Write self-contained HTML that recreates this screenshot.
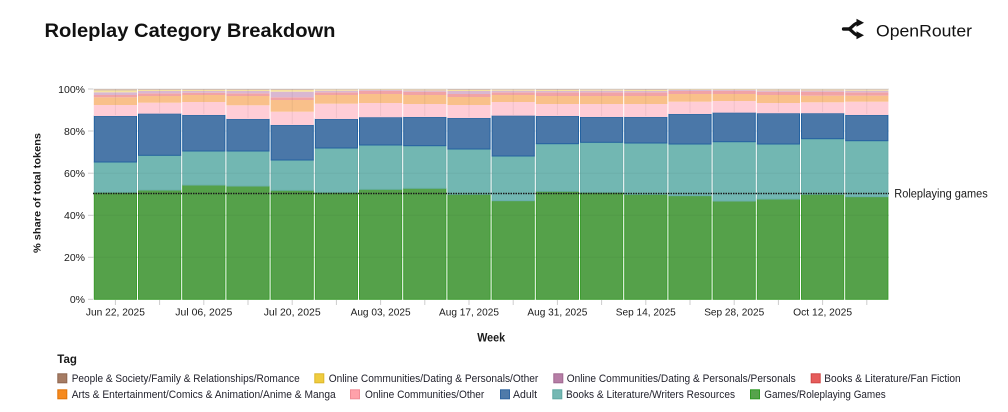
<!DOCTYPE html>
<html><head><meta charset="utf-8"><style>
html,body{margin:0;padding:0;background:#fff;}
svg{display:block;font-family:"Liberation Sans",sans-serif;}
</style></head><body>
<svg width="1008" height="412" viewBox="0 0 1008 412" xmlns="http://www.w3.org/2000/svg">
<rect width="1008" height="412" fill="#fff"/>
<!-- Title -->
<text x="44.5" y="37" font-size="19" font-weight="bold" fill="#111" textLength="291" lengthAdjust="spacingAndGlyphs">Roleplay Category Breakdown</text>
<!-- Logo -->
<g fill="none" stroke="#111" stroke-width="3.2" stroke-linejoin="round" stroke-linecap="round">
<path d="M843.5 29 L848 29 C852 29 853.5 22.8 858.5 22.8"/>
<path d="M843.5 29 L848 29 C852 29 853.5 35.2 858.5 35.2"/>
</g>
<polygon points="856.5,18.8 864,22.8 856.5,26.8" fill="#111"/>
<polygon points="856.5,31.2 864,35.2 856.5,39.2" fill="#111"/>
<text x="876" y="36.7" font-size="17" fill="#111" textLength="96" lengthAdjust="spacingAndGlyphs">OpenRouter</text>

<!-- gridlines behind -->
<g stroke="#e6e6e6" stroke-width="1">
<line x1="93" x2="889" y1="89" y2="89"/><line x1="93" x2="889" y1="131" y2="131"/><line x1="93" x2="889" y1="173.2" y2="173.2"/><line x1="93" x2="889" y1="215.3" y2="215.3"/><line x1="93" x2="889" y1="257.3" y2="257.3"/>
</g>

<!-- Green -->
<g fill="#55a14a" stroke="#3d9c30" stroke-width="1">
<rect x="94.3" y="192.3" width="42.2" height="107"/>
<rect x="138.5" y="190" width="42.2" height="109.3"/>
<rect x="182.7" y="185" width="42.2" height="114.3"/>
<rect x="226.9" y="186" width="42.2" height="113.3"/>
<rect x="271.1" y="190.3" width="42.2" height="109"/>
<rect x="315.3" y="192.3" width="42.2" height="107"/>
<rect x="359.5" y="189.3" width="42.2" height="110"/>
<rect x="403.7" y="188.3" width="42.2" height="111"/>
<rect x="447.9" y="194.3" width="42.2" height="105"/>
<rect x="492.1" y="200.7" width="42.2" height="98.6"/>
<rect x="536.3" y="191.3" width="42.2" height="108"/>
<rect x="580.5" y="192.3" width="42.2" height="107"/>
<rect x="624.7" y="194.3" width="42.2" height="105"/>
<rect x="668.9" y="195.7" width="42.2" height="103.6"/>
<rect x="713.1" y="201" width="42.2" height="98.3"/>
<rect x="757.3" y="199" width="42.2" height="100.3"/>
<rect x="801.5" y="194.3" width="42.2" height="105"/>
<rect x="845.7" y="196.7" width="42.2" height="102.6"/>
</g>
<!-- Teal -->
<g fill="#72b7b2" stroke="#6aafaa" stroke-width="1">
<rect x="94.3" y="162" width="42.2" height="30.3"/>
<rect x="138.5" y="155.3" width="42.2" height="34.7"/>
<rect x="182.7" y="151" width="42.2" height="34"/>
<rect x="226.9" y="151" width="42.2" height="35"/>
<rect x="271.1" y="160" width="42.2" height="30.3"/>
<rect x="315.3" y="148" width="42.2" height="44.3"/>
<rect x="359.5" y="145" width="42.2" height="44.3"/>
<rect x="403.7" y="145.7" width="42.2" height="42.6"/>
<rect x="447.9" y="149" width="42.2" height="45.3"/>
<rect x="492.1" y="156" width="42.2" height="44.7"/>
<rect x="536.3" y="143.7" width="42.2" height="47.6"/>
<rect x="580.5" y="142.3" width="42.2" height="50"/>
<rect x="624.7" y="143" width="42.2" height="51.3"/>
<rect x="668.9" y="144" width="42.2" height="51.7"/>
<rect x="713.1" y="141.7" width="42.2" height="59.3"/>
<rect x="757.3" y="144" width="42.2" height="55"/>
<rect x="801.5" y="138.7" width="42.2" height="55.6"/>
<rect x="845.7" y="140.7" width="42.2" height="56"/>
</g>
<!-- Blue -->
<g fill="#4a77a8" stroke="#2462a0" stroke-width="1">
<rect x="94.3" y="116" width="42.2" height="46"/>
<rect x="138.5" y="113.7" width="42.2" height="41.6"/>
<rect x="182.7" y="115" width="42.2" height="36"/>
<rect x="226.9" y="119" width="42.2" height="32"/>
<rect x="271.1" y="125" width="42.2" height="35"/>
<rect x="315.3" y="119" width="42.2" height="29"/>
<rect x="359.5" y="117.3" width="42.2" height="27.7"/>
<rect x="403.7" y="117" width="42.2" height="28.7"/>
<rect x="447.9" y="118" width="42.2" height="31"/>
<rect x="492.1" y="115.7" width="42.2" height="40.3"/>
<rect x="536.3" y="116" width="42.2" height="27.7"/>
<rect x="580.5" y="117" width="42.2" height="25.3"/>
<rect x="624.7" y="117" width="42.2" height="26"/>
<rect x="668.9" y="114" width="42.2" height="30"/>
<rect x="713.1" y="112.7" width="42.2" height="29"/>
<rect x="757.3" y="113.3" width="42.2" height="30.7"/>
<rect x="801.5" y="113.3" width="42.2" height="25.4"/>
<rect x="845.7" y="115" width="42.2" height="25.7"/>
</g>
<!-- Pink -->
<g fill="#ffcdd6">
<rect x="93.8" y="105" width="43.2" height="11"/>
<rect x="138" y="102.7" width="43.2" height="11"/>
<rect x="182.2" y="102" width="43.2" height="13"/>
<rect x="226.4" y="105.3" width="43.2" height="13.7"/>
<rect x="270.6" y="111.7" width="43.2" height="13.3"/>
<rect x="314.8" y="103.7" width="43.2" height="15.3"/>
<rect x="359" y="103" width="43.2" height="14.3"/>
<rect x="403.2" y="104" width="43.2" height="13"/>
<rect x="447.4" y="105" width="43.2" height="13"/>
<rect x="491.6" y="102" width="43.2" height="13.7"/>
<rect x="535.8" y="104" width="43.2" height="12"/>
<rect x="580" y="104" width="43.2" height="13"/>
<rect x="624.2" y="104" width="43.2" height="13"/>
<rect x="668.4" y="101.7" width="43.2" height="12.3"/>
<rect x="712.6" y="101" width="43.2" height="11.7"/>
<rect x="756.8" y="103" width="43.2" height="10.3"/>
<rect x="801" y="102.3" width="43.2" height="11"/>
<rect x="845.2" y="101.7" width="43.2" height="13.3"/>
</g>
<!-- Orange -->
<g fill="#f9c08a">
<rect x="93.8" y="97.3" width="43.2" height="7.7"/>
<rect x="138" y="96" width="43.2" height="6.7"/>
<rect x="182.2" y="95" width="43.2" height="7"/>
<rect x="226.4" y="96" width="43.2" height="9.3"/>
<rect x="270.6" y="100" width="43.2" height="11.7"/>
<rect x="314.8" y="95" width="43.2" height="8.7"/>
<rect x="359" y="94" width="43.2" height="9"/>
<rect x="403.2" y="95" width="43.2" height="9"/>
<rect x="447.4" y="97" width="43.2" height="8"/>
<rect x="491.6" y="95" width="43.2" height="7"/>
<rect x="535.8" y="96" width="43.2" height="8"/>
<rect x="580" y="96" width="43.2" height="8"/>
<rect x="624.2" y="96" width="43.2" height="8"/>
<rect x="668.4" y="94" width="43.2" height="7.7"/>
<rect x="712.6" y="94" width="43.2" height="7"/>
<rect x="756.8" y="95" width="43.2" height="8"/>
<rect x="801" y="95.7" width="43.2" height="6.6"/>
<rect x="845.2" y="95.7" width="43.2" height="6"/>
</g>
<!-- Red -->
<g fill="#f1a3a6">
<rect x="93.8" y="95" width="43.2" height="2.3"/>
<rect x="138" y="93.3" width="43.2" height="2.7"/>
<rect x="182.2" y="92.7" width="43.2" height="2.3"/>
<rect x="226.4" y="93.3" width="43.2" height="2.7"/>
<rect x="270.6" y="97.3" width="43.2" height="2.7"/>
<rect x="314.8" y="92.3" width="43.2" height="2.7"/>
<rect x="359" y="90.7" width="43.2" height="3.3"/>
<rect x="403.2" y="91.7" width="43.2" height="3.3"/>
<rect x="447.4" y="94" width="43.2" height="3"/>
<rect x="491.6" y="92.3" width="43.2" height="2.7"/>
<rect x="535.8" y="92.3" width="43.2" height="3.7"/>
<rect x="580" y="92.3" width="43.2" height="3.7"/>
<rect x="624.2" y="92.3" width="43.2" height="3.7"/>
<rect x="668.4" y="91" width="43.2" height="3"/>
<rect x="712.6" y="90.7" width="43.2" height="3.3"/>
<rect x="756.8" y="91.7" width="43.2" height="3.3"/>
<rect x="801" y="91.7" width="43.2" height="4"/>
<rect x="845.2" y="92.3" width="43.2" height="3.4"/>
</g>
<!-- Purple -->
<g fill="#d9b7d1">
<rect x="93.8" y="92.3" width="43.2" height="2.7"/>
<rect x="138" y="91" width="43.2" height="2.3"/>
<rect x="182.2" y="91" width="43.2" height="1.7"/>
<rect x="226.4" y="91" width="43.2" height="2.3"/>
<rect x="270.6" y="91.7" width="43.2" height="5.6"/>
<rect x="314.8" y="90.7" width="43.2" height="1.6"/>
<rect x="359" y="90" width="43.2" height="0.7"/>
<rect x="403.2" y="90.5" width="43.2" height="1.2"/>
<rect x="447.4" y="91" width="43.2" height="3"/>
<rect x="491.6" y="90.7" width="43.2" height="1.6"/>
<rect x="535.8" y="91" width="43.2" height="1.3"/>
<rect x="580" y="90.7" width="43.2" height="1.6"/>
<rect x="624.2" y="91" width="43.2" height="1.3"/>
<rect x="668.4" y="90" width="43.2" height="1"/>
<rect x="712.6" y="90" width="43.2" height="0.7"/>
<rect x="756.8" y="90.5" width="43.2" height="1.2"/>
<rect x="801" y="90.5" width="43.2" height="1.2"/>
<rect x="845.2" y="90.7" width="43.2" height="1.6"/>
</g>
<!-- Yellow -->
<g fill="#f6e3a0">
<rect x="93.8" y="90.5" width="43.2" height="1.8"/>
<rect x="138" y="90" width="43.2" height="1"/>
<rect x="182.2" y="90" width="43.2" height="1"/>
<rect x="226.4" y="90" width="43.2" height="1"/>
<rect x="270.6" y="90" width="43.2" height="1.7"/>
<rect x="314.8" y="89.7" width="43.2" height="1"/>
<rect x="359" y="89.6" width="43.2" height="0.4"/>
<rect x="403.2" y="89.7" width="43.2" height="0.8"/>
<rect x="447.4" y="90" width="43.2" height="1"/>
<rect x="491.6" y="89.8" width="43.2" height="0.9"/>
<rect x="535.8" y="90" width="43.2" height="1"/>
<rect x="580" y="89.8" width="43.2" height="0.9"/>
<rect x="624.2" y="90" width="43.2" height="1"/>
<rect x="668.4" y="89.6" width="43.2" height="0.4"/>
<rect x="712.6" y="89.6" width="43.2" height="0.4"/>
<rect x="756.8" y="89.7" width="43.2" height="0.8"/>
<rect x="801" y="89.7" width="43.2" height="0.8"/>
<rect x="845.2" y="89.8" width="43.2" height="0.9"/>
</g>
<!-- Brown -->
<g fill="#d3bfb2">
<rect x="93.8" y="89" width="43.2" height="1.5"/>
<rect x="138" y="89" width="43.2" height="1"/>
<rect x="182.2" y="89" width="43.2" height="1"/>
<rect x="226.4" y="89" width="43.2" height="1"/>
<rect x="270.6" y="89" width="43.2" height="1"/>
<rect x="314.8" y="89" width="43.2" height="0.7"/>
<rect x="359" y="89" width="43.2" height="0.6"/>
<rect x="403.2" y="89" width="43.2" height="0.7"/>
<rect x="447.4" y="89" width="43.2" height="1"/>
<rect x="491.6" y="89" width="43.2" height="0.8"/>
<rect x="535.8" y="89" width="43.2" height="1"/>
<rect x="580" y="89" width="43.2" height="0.8"/>
<rect x="624.2" y="89" width="43.2" height="1"/>
<rect x="668.4" y="89" width="43.2" height="0.6"/>
<rect x="712.6" y="89" width="43.2" height="0.6"/>
<rect x="756.8" y="89" width="43.2" height="0.7"/>
<rect x="801" y="89" width="43.2" height="0.7"/>
<rect x="845.2" y="89" width="43.2" height="0.8"/>
</g>

<!-- faint grid overlay (top light region) -->
<g stroke="#000" stroke-opacity="0.06" stroke-width="1">
<line x1="115.4" x2="115.4" y1="89" y2="115"/><line x1="159.6" x2="159.6" y1="89" y2="113"/><line x1="203.8" x2="203.8" y1="89" y2="114"/><line x1="248" x2="248" y1="89" y2="118"/><line x1="292.2" x2="292.2" y1="89" y2="124"/><line x1="336.4" x2="336.4" y1="89" y2="118"/><line x1="380.6" x2="380.6" y1="89" y2="116"/><line x1="424.8" x2="424.8" y1="89" y2="116"/><line x1="469" x2="469" y1="89" y2="117"/><line x1="513.2" x2="513.2" y1="89" y2="115"/><line x1="557.4" x2="557.4" y1="89" y2="115"/><line x1="601.6" x2="601.6" y1="89" y2="116"/><line x1="645.8" x2="645.8" y1="89" y2="116"/><line x1="690" x2="690" y1="89" y2="113"/><line x1="734.2" x2="734.2" y1="89" y2="112"/><line x1="778.4" x2="778.4" y1="89" y2="112"/><line x1="822.6" x2="822.6" y1="89" y2="112"/><line x1="866.8" x2="866.8" y1="89" y2="114"/>
</g>
<g stroke="#000" stroke-opacity="0.04" stroke-width="1">
<line x1="93" x2="889" y1="173.2" y2="173.2"/><line x1="93" x2="889" y1="215.3" y2="215.3"/><line x1="93" x2="889" y1="257.3" y2="257.3"/>
</g>

<!-- dotted reference line -->
<line x1="93" x2="889" y1="193.5" y2="193.5" stroke="#1a1a1a" stroke-width="1.6" stroke-dasharray="1.5 1"/>
<text x="894.3" y="197.3" font-size="11.5" fill="#1a1a1a" textLength="93.4" lengthAdjust="spacingAndGlyphs">Roleplaying games</text>

<!-- y axis ticks -->
<g stroke="#cccccc" stroke-width="1">
<line x1="88" x2="93" y1="89" y2="89"/><line x1="88" x2="93" y1="131" y2="131"/><line x1="88" x2="93" y1="173.2" y2="173.2"/><line x1="88" x2="93" y1="215.3" y2="215.3"/><line x1="88" x2="93" y1="257.3" y2="257.3"/><line x1="88" x2="93" y1="299.3" y2="299.3"/>
</g>
<g font-size="10.5" fill="#1a1a1a" text-anchor="end">
<text x="85" y="92.8">100%</text>
<text x="85" y="134.8">80%</text>
<text x="85" y="177">60%</text>
<text x="85" y="219.1">40%</text>
<text x="85" y="261.1">20%</text>
<text x="85" y="303.1">0%</text>
</g>
<!-- x axis ticks -->
<g stroke="#cccccc" stroke-width="1">
<line x1="115.4" x2="115.4" y1="300" y2="305"/><line x1="159.6" x2="159.6" y1="300" y2="305"/><line x1="203.8" x2="203.8" y1="300" y2="305"/><line x1="248" x2="248" y1="300" y2="305"/><line x1="292.2" x2="292.2" y1="300" y2="305"/><line x1="336.4" x2="336.4" y1="300" y2="305"/><line x1="380.6" x2="380.6" y1="300" y2="305"/><line x1="424.8" x2="424.8" y1="300" y2="305"/><line x1="469" x2="469" y1="300" y2="305"/><line x1="513.2" x2="513.2" y1="300" y2="305"/><line x1="557.4" x2="557.4" y1="300" y2="305"/><line x1="601.6" x2="601.6" y1="300" y2="305"/><line x1="645.8" x2="645.8" y1="300" y2="305"/><line x1="690" x2="690" y1="300" y2="305"/><line x1="734.2" x2="734.2" y1="300" y2="305"/><line x1="778.4" x2="778.4" y1="300" y2="305"/><line x1="822.6" x2="822.6" y1="300" y2="305"/><line x1="866.8" x2="866.8" y1="300" y2="305"/>
</g>
<g font-size="10.5" fill="#1a1a1a" text-anchor="middle">
<text x="115.4" y="315.5" textLength="59" lengthAdjust="spacingAndGlyphs">Jun 22, 2025</text>
<text x="203.8" y="315.5" textLength="57" lengthAdjust="spacingAndGlyphs">Jul 06, 2025</text>
<text x="292.2" y="315.5" textLength="57" lengthAdjust="spacingAndGlyphs">Jul 20, 2025</text>
<text x="380.6" y="315.5" textLength="60" lengthAdjust="spacingAndGlyphs">Aug 03, 2025</text>
<text x="469" y="315.5" textLength="60" lengthAdjust="spacingAndGlyphs">Aug 17, 2025</text>
<text x="557.4" y="315.5" textLength="60" lengthAdjust="spacingAndGlyphs">Aug 31, 2025</text>
<text x="645.8" y="315.5" textLength="60" lengthAdjust="spacingAndGlyphs">Sep 14, 2025</text>
<text x="734.2" y="315.5" textLength="60" lengthAdjust="spacingAndGlyphs">Sep 28, 2025</text>
<text x="822.6" y="315.5" textLength="59" lengthAdjust="spacingAndGlyphs">Oct 12, 2025</text>
</g>
<text x="491.2" y="341.3" font-size="11.5" font-weight="bold" fill="#1a1a1a" text-anchor="middle" textLength="28" lengthAdjust="spacingAndGlyphs">Week</text>
<text transform="translate(40.5,193) rotate(-90)" x="0" y="0" font-size="10.5" font-weight="bold" fill="#1a1a1a" text-anchor="middle" textLength="120" lengthAdjust="spacingAndGlyphs">% share of total tokens</text>

<!-- Legend -->
<text x="57.3" y="363" font-size="11.5" font-weight="bold" fill="#1a1a1a">Tag</text>
<g stroke-width="1">
<rect x="57.8" y="373.8" width="9" height="9" fill="#a67c64" stroke="#8e6650"/>
<rect x="314.8" y="373.8" width="9" height="9" fill="#efcc3f" stroke="#dcb62a"/>
<rect x="553.8" y="373.8" width="9" height="9" fill="#b67ea6" stroke="#a06890"/>
<rect x="811.2" y="373.8" width="9" height="9" fill="#e65c5b" stroke="#d04545"/>
<rect x="57.8" y="389.8" width="9" height="9" fill="#f68a1e" stroke="#e07308"/>
<rect x="350.5" y="389.8" width="9" height="9" fill="#ffa1aa" stroke="#f08c96"/>
<rect x="500.5" y="389.8" width="9" height="9" fill="#4f7aa9" stroke="#2f64a0"/>
<rect x="552.8" y="389.8" width="9" height="9" fill="#75b8b3" stroke="#5fa8a2"/>
<rect x="750.5" y="389.8" width="9" height="9" fill="#56a34c" stroke="#2e9a24"/>
</g>
<g font-size="11" fill="#1f1f2a">
<text x="71.7" y="382.2" textLength="228" lengthAdjust="spacingAndGlyphs">People &amp; Society/Family &amp; Relationships/Romance</text>
<text x="328.7" y="382.2" textLength="209.6" lengthAdjust="spacingAndGlyphs">Online Communities/Dating &amp; Personals/Other</text>
<text x="566.7" y="382.2" textLength="229" lengthAdjust="spacingAndGlyphs">Online Communities/Dating &amp; Personals/Personals</text>
<text x="824.3" y="382.2" textLength="136.4" lengthAdjust="spacingAndGlyphs">Books &amp; Literature/Fan Fiction</text>
<text x="71.7" y="398.2" textLength="264" lengthAdjust="spacingAndGlyphs">Arts &amp; Entertainment/Comics &amp; Animation/Anime &amp; Manga</text>
<text x="365" y="398.2" textLength="119.3" lengthAdjust="spacingAndGlyphs">Online Communities/Other</text>
<text x="513" y="398.2" textLength="24" lengthAdjust="spacingAndGlyphs">Adult</text>
<text x="566" y="398.2" textLength="169" lengthAdjust="spacingAndGlyphs">Books &amp; Literature/Writers Resources</text>
<text x="764.3" y="398.2" textLength="121.4" lengthAdjust="spacingAndGlyphs">Games/Roleplaying Games</text>
</g>
</svg>
</body></html>
